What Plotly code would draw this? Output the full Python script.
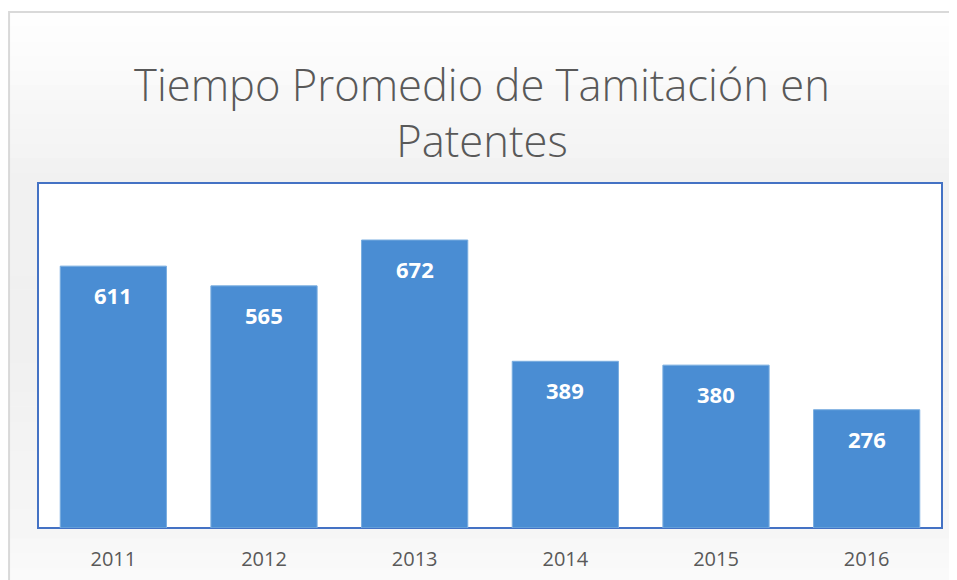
import plotly.graph_objects as go

years = ["2011", "2012", "2013", "2014", "2015", "2016"]
values = [611, 565, 672, 389, 380, 276]
title_text = "Tiempo Promedio de Tamitación en<br>Patentes"

fig = go.Figure()
fig.add_trace(go.Bar(
    x=years, y=values,
    marker=dict(color="#4A8DD3", line=dict(color="#7AAEE0", width=1)),
    hoverinfo="x+y",
))

# data labels inside the top of each bar (category index positions)
for i, v in enumerate(values):
    fig.add_annotation(x=i, y=v, xref="x", yref="y", text=str(v), showarrow=False,
                       yshift=-29, yanchor="middle",
                       font=dict(family="Open Sans", size=22, color="white", weight="bold"))

# smooth background gradient for the chart frame (gray stops by paper y)
stops = [(-0.2, 252), (0.0, 246), (0.5, 240), (1.0, 241), (1.4957, 255)]
def gray_at(y):
    for (ya, ga), (yb, gb) in zip(stops[:-1], stops[1:]):
        if ya <= y <= yb:
            return ga + (gb - ga) * (y - ya) / (yb - ya)
    return stops[-1][1]

shapes = []
n = 40
y_lo, y_hi = stops[0][0], stops[-1][0]
for k in range(n):
    y0 = y_lo + (y_hi - y_lo) * k / n
    y1 = y_lo + (y_hi - y_lo) * (k + 1) / n
    g = int(round(gray_at((y0 + y1) / 2)))
    shapes.append(dict(type="rect", xref="paper", yref="paper", x0=-0.032, x1=1.05,
                       y0=y0, y1=y1 + 0.002, fillcolor=f"rgb({g},{g},{g})",
                       line=dict(width=0), layer="below"))
shapes.append(dict(type="rect", xref="paper", yref="paper", x0=-0.032, x1=1.05,
                   y0=-0.2, y1=1.4957, fillcolor="rgba(0,0,0,0)",
                   line=dict(color="#D9D9D9", width=2), layer="below"))
shapes.append(dict(type="rect", xref="paper", yref="paper", x0=0, x1=1, y0=0, y1=1,
                   fillcolor="white", line=dict(color="#4472C4", width=2), layer="below"))

fig.update_layout(
    width=957, height=580,
    margin=dict(l=30, r=23, t=175, b=60),
    paper_bgcolor="white",
    plot_bgcolor="white",
    bargap=0.295,
    showlegend=False,
    title=dict(text=title_text, x=474/957, xanchor="center", xref="container",
               y=1 - 92.5/580, yanchor="middle", yref="container",
               font=dict(family="Open Sans", size=43.5, color="#595959", weight=300)),
    xaxis=dict(type="category", range=[-0.5, len(years) - 0.5], autorange=False,
               showgrid=False, showline=False, ticks="", zeroline=False,
               tickfont=dict(family="Open Sans", size=20, color="#595959"),
               ticklabelstandoff=17),
    yaxis=dict(range=[0, 805], autorange=False, visible=False, showgrid=False),
    shapes=shapes,
)
fig.write_html("out.html")
